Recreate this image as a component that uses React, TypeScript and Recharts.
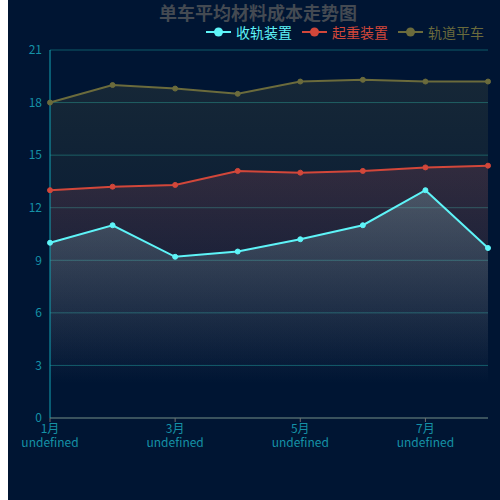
import { ComposedChart, Area, XAxis, YAxis, CartesianGrid } from "recharts";

const months = ["1月", "2月", "3月", "4月", "5月", "6月", "7月", "8月"];
const shouGui = [10, 11, 9.2, 9.5, 10.2, 11, 13, 9.7];
const qiZhong = [13, 13.2, 13.3, 14.1, 14, 14.1, 14.3, 14.4];
const guiDao = [18, 19, 18.8, 18.5, 19.2, 19.3, 19.2, 19.2];
const yTicks = [0, 3, 6, 9, 12, 15, 18, 21];

const series = [
    { key: "guiDao", name: "轨道平车", color: "#6b6b3c", fill: "#7a7a48", opacity: 0.18 },
    { key: "qiZhong", name: "起重装置", color: "#d2473a", fill: "#b8505e", opacity: 0.2 },
    { key: "shouGui", name: "收轨装置", color: "#5ef4f8", fill: "#8fbcc4", opacity: 0.3 },
];
const legendOrder = ["shouGui", "qiZhong", "guiDao"];

const data = months.map((m, i) => ({
    month: m,
    shouGui: shouGui[i],
    qiZhong: qiZhong[i],
    guiDao: guiDao[i],
}));

const FONT = "'Noto Sans CJK SC', 'Noto Sans', sans-serif";
const TICK = "#1591a6";

// two-line label: month, then the literal "undefined" the original shows
const XTick = ({ x, y, payload }: any) => (
    <g>
        <text x={x} y={y + 9} textAnchor="middle" fill={TICK} fontSize={12} fontFamily={FONT}>
            {payload.value}
        </text>
        <text x={x} y={y + 23} textAnchor="middle" fill={TICK} fontSize={12} fontFamily={FONT}>
            undefined
        </text>
    </g>
);

export default function App() {
    return (
        <div style={{ position: "absolute", top: 0, left: 8, width: 500, height: 500, background: "#001533", fontFamily: FONT }}>
            <div style={{ position: "absolute", top: 1, left: 0, width: 500, textAlign: "center", color: "#444a52", fontSize: 18, fontWeight: 700, lineHeight: "22px" }}>
                单车平均材料成本走势图
            </div>
            <div style={{ position: "absolute", top: 23, right: 24, display: "flex", gap: 10, fontSize: 14, lineHeight: "18px" }}>
                {legendOrder.map((k) => {
                    const s = series.find((x) => x.key === k)!;
                    return (
                        <div key={k} style={{ display: "flex", alignItems: "center", color: s.color }}>
                            <svg width={25} height={12} style={{ marginRight: 5 }}>
                                <line x1={0} y1={6} x2={25} y2={6} stroke={s.color} strokeWidth={2} />
                                <circle cx={12.5} cy={6} r={4.5} fill={s.color} />
                            </svg>
                            {s.name}
                        </div>
                    );
                })}
            </div>
            <ComposedChart width={500} height={500} data={data} margin={{ top: 50, right: 20, left: 0, bottom: 52 }}>
                <defs>
                    {series.map((s) => (
                        <linearGradient key={s.key} id={`g-${s.key}`} x1="0" y1="0" x2="0" y2="1">
                            <stop offset="0%" stopColor={s.fill} stopOpacity={s.opacity} />
                            <stop offset="85%" stopColor={s.fill} stopOpacity={0} />
                        </linearGradient>
                    ))}
                </defs>
                <CartesianGrid vertical={false} stroke="#0d5a68" />
                <XAxis
                    dataKey="month"
                    interval={1}
                    stroke="#6e6e6e"
                    tickLine={{ stroke: "#6e6e6e" }}
                    tickSize={4}
                    tick={<XTick />}
                    height={30}
                />
                <YAxis
                    domain={[0, 21]}
                    ticks={yTicks}
                    width={42}
                    stroke="#12a3b3"
                    tickLine={false}
                    tick={{ fill: TICK, fontSize: 12, fontFamily: FONT }}
                />
                {series.map((s) => (
                    <Area
                        key={s.key}
                        type="linear"
                        dataKey={s.key}
                        name={s.name}
                        stroke={s.color}
                        strokeWidth={2}
                        fill={`url(#g-${s.key})`}
                        fillOpacity={1}
                        dot={{ r: 2.5, fill: s.color, stroke: s.color, strokeWidth: 1 }}
                        activeDot={false}
                        isAnimationActive={false}
                    />
                ))}
            </ComposedChart>
        </div>
    );
}
